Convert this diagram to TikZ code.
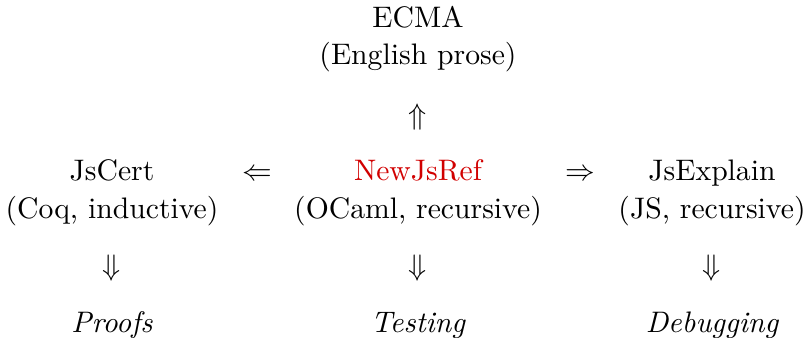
\documentclass[tikz,border=0pt]{standalone}
\begin{document}
\begin{tikzpicture}[x=0.337pt,y=-0.337pt,
  lbl/.style={anchor=base,inner sep=0pt,outer sep=0pt,font=\normalsize},
  sym/.style={anchor=center,inner sep=0pt,outer sep=0pt}]
\useasboundingbox (0,0) rectangle (804,338);
% top
\node[lbl] (ecma) at (418,28) {ECMA};
\node[lbl] (ecmasub) at (418,65) {(English prose)};
\node[sym] (up) at (418,117) {$\Uparrow$};
% middle row
\node[lbl] (jscert) at (112,181) {JsCert};
\node[lbl] (jscertsub) at (112,219) {(Coq, inductive)};
\node[sym] (left) at (257,175) {$\Leftarrow$};
\node[lbl,text=red!82!black] (newjsref) at (418,181) {NewJsRef};
\node[lbl] (newjsrefsub) at (418,219) {(OCaml, recursive)};
\node[sym] (right) at (580,175) {$\Rightarrow$};
\node[lbl] (jsexplain) at (712,181) {JsExplain};
\node[lbl] (jsexplainsub) at (712,219) {(JS, recursive)};
% down arrows
\node[sym] (d1) at (112,268) {$\Downarrow$};
\node[sym] (d2) at (418,268) {$\Downarrow$};
\node[sym] (d3) at (712,268) {$\Downarrow$};
% bottom
\node[lbl] (proofs) at (112,333) {\itshape Proofs};
\node[lbl] (testing) at (418,333) {\itshape Testing};
\node[lbl] (debugging) at (712,333) {\itshape Debugging};
\end{tikzpicture}
\end{document}
